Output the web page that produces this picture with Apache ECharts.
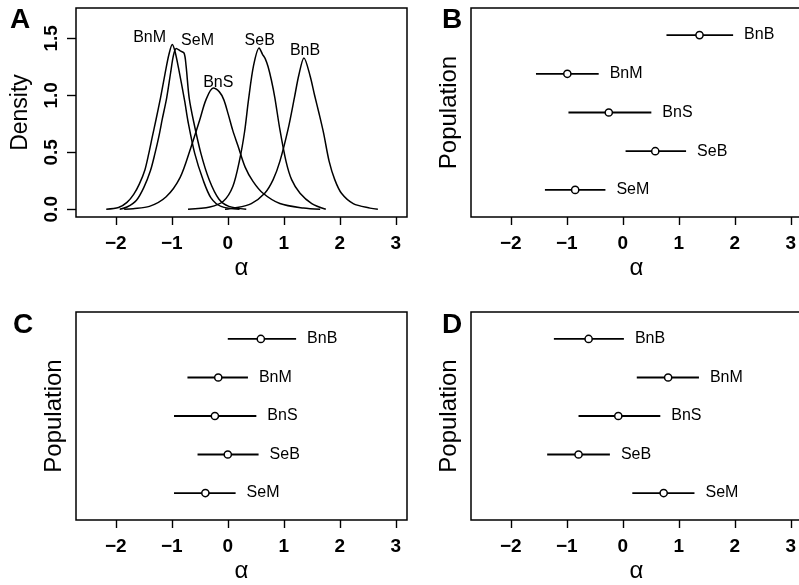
<!DOCTYPE html>
<html><head><meta charset="utf-8">
<script src="https://cdn.jsdelivr.net/npm/echarts@6/dist/echarts.min.js"></script>
<style>html,body{margin:0;padding:0;background:#fff}#c{width:799px;height:585px}</style>
</head><body><div id="c"></div>
<script>
// ---- data ----
const xTicks = [-2, -1, 0, 1, 2, 3];
const densityTicks = [0, 0.5, 1, 1.5];
const populations = ['BnB', 'BnM', 'BnS', 'SeB', 'SeM'];
const popPositions = [5, 4, 3, 2, 1];

// Panel A: posterior densities of alpha
const densBnM = [[-2.17,0],[-1.95,0.015],[-1.80,0.06],[-1.68,0.13],[-1.58,0.22],[-1.48,0.345],[-1.41,0.49],[-1.35,0.63],[-1.28,0.79],[-1.20,0.98],[-1.12,1.19],[-1.05,1.36],[-0.99,1.445],[-0.94,1.38],[-0.88,1.24],[-0.77,0.95],[-0.71,0.77],[-0.59,0.49],[-0.44,0.256],[-0.30,0.10],[-0.12,0.025],[0.21,0]];
const densSeM = [[-1.93,0],[-1.80,0.02],[-1.63,0.08],[-1.50,0.19],[-1.38,0.34],[-1.30,0.49],[-1.23,0.64],[-1.17,0.79],[-1.09,0.98],[-1.02,1.20],[-0.97,1.35],[-0.92,1.41],[-0.85,1.39],[-0.78,1.37],[-0.745,1.26],[-0.69,0.98],[-0.61,0.77],[-0.48,0.49],[-0.33,0.256],[-0.16,0.09],[0.02,0.025],[0.33,0]];
const densBnS = [[-1.85,0],[-1.69,0.005],[-1.40,0.025],[-1.10,0.11],[-0.85,0.28],[-0.66,0.54],[-0.50,0.785],[-0.39,0.96],[-0.26,1.063],[-0.15,1.03],[-0.07,0.96],[0.01,0.83],[0.09,0.69],[0.18,0.56],[0.31,0.37],[0.45,0.245],[0.63,0.14],[0.93,0.05],[1.35,0.01],[1.65,0]];
const densSeB = [[-0.71,0],[-0.32,0.02],[-0.08,0.07],[0.09,0.20],[0.21,0.43],[0.30,0.68],[0.37,0.96],[0.46,1.26],[0.56,1.415],[0.62,1.36],[0.67,1.32],[0.72,1.25],[0.78,1.13],[0.84,0.98],[0.93,0.70],[1.04,0.42],[1.14,0.26],[1.29,0.14],[1.50,0.05],[1.75,0]];
const densBnB = [[-0.05,0],[0.12,0.01],[0.42,0.05],[0.66,0.14],[0.81,0.26],[0.93,0.42],[1.08,0.71],[1.19,0.98],[1.27,1.18],[1.36,1.327],[1.47,1.17],[1.55,1.00],[1.63,0.84],[1.71,0.67],[1.81,0.42],[1.91,0.26],[2.03,0.14],[2.24,0.05],[2.54,0.01],[2.68,0]];
const curveNames = ['BnM', 'SeM', 'BnS', 'SeB', 'BnB'];
const curveLabelX = [-1.395, -0.54, -0.17, 0.57, 1.38];
const curveLabelY = [1.502, 1.48, 1.114, 1.48, 1.393];

// Panels B, C, D: posterior mean and interval per population (order of `populations`)
const bMean = [1.37, -0.99, -0.25, 0.58, -0.85];
const bLow  = [0.78, -1.55, -0.97, 0.05, -1.39];
const bHigh = [1.97, -0.43, 0.51, 1.13, -0.31];
const cMean = [0.59, -0.17, -0.23, 0.00, -0.40];
const cLow  = [0.00, -0.72, -0.96, -0.54, -0.96];
const cHigh = [1.22, 0.36, 0.51, 0.55, 0.14];
const dMean = [-0.61, 0.81, -0.08, -0.79, 0.73];
const dLow  = [-1.23, 0.25, -0.79, -1.35, 0.17];
const dHigh = [0.02, 1.36, 0.67, -0.23, 1.28];

// ---- chart ----
const FONT = '"Liberation Sans", Arial, Helvetica, sans-serif';
const chart = echarts.init(document.getElementById('c'), null, {renderer: 'canvas'});

const grids = [
  {left: 76, top: 8, width: 331, height: 209},
  {left: 471, top: 8, width: 331, height: 209},
  {left: 76, top: 312, width: 331, height: 208},
  {left: 471, top: 312, width: 331, height: 208}
].map(g => Object.assign({show: true, borderColor: '#000', borderWidth: 1.5, backgroundColor: 'transparent', containLabel: false, outerBoundsMode: 'none'}, g));

const xAxes = [0, 1, 2, 3].map(i => ({
  type: 'value', gridIndex: i, min: -2.71, max: 3.2,
  name: 'α', nameLocation: 'middle', nameGap: 39,
  nameTextStyle: {fontSize: 24, color: '#000', fontFamily: FONT},
  axisLine: {show: false, onZero: false},
  axisTick: {show: true, inside: false, length: 8, customValues: xTicks, lineStyle: {color: '#000', width: 1.4}},
  axisLabel: {show: true, customValues: xTicks, margin: 17, fontSize: 19, fontWeight: 'bold', color: '#000', fontFamily: FONT,
    formatter: v => (v < 0 ? '\u2212' + Math.abs(v) : String(v))},
  splitLine: {show: false}
}));

const popAxis = i => ({
  type: 'value', gridIndex: i, min: 0.3, max: 5.7,
  name: 'Population', nameLocation: 'middle', nameRotate: 90, nameGap: 10,
  nameTextStyle: {fontSize: 24, color: '#000', fontFamily: FONT},
  axisLine: {show: false, onZero: false}, axisTick: {show: false}, axisLabel: {show: false}, splitLine: {show: false}
});

const yAxes = [
  {
    type: 'value', gridIndex: 0, min: -0.068, max: 1.766,
    name: 'Density', nameLocation: 'middle', nameRotate: 90, nameGap: 44,
    nameTextStyle: {fontSize: 23, color: '#000', fontFamily: FONT},
    axisLine: {show: false, onZero: false},
    axisTick: {show: true, inside: false, length: 9, customValues: densityTicks, lineStyle: {color: '#000', width: 1.4}},
    axisLabel: {show: true, customValues: densityTicks, rotate: 90, margin: 15, fontSize: 19, fontWeight: 'bold', color: '#000', fontFamily: FONT,
      formatter: v => v.toFixed(1)},
    splitLine: {show: false}
  },
  popAxis(1), popAxis(2), popAxis(3)
];

const densityCurves = [densBnM, densSeM, densBnS, densSeB, densBnB];
const lineSeries = densityCurves.map(d => ({
  type: 'line', xAxisIndex: 0, yAxisIndex: 0, data: d, showSymbol: false, symbol: 'none',
  smooth: 0.3, lineStyle: {color: '#000', width: 1.5}, silent: true
}));

const labelSeriesA = {
  type: 'custom', xAxisIndex: 0, yAxisIndex: 0,
  data: curveNames.map((n, i) => [curveLabelX[i], curveLabelY[i]]),
  renderItem(params, api) {
    const p = api.coord([api.value(0), api.value(1)]);
    return {type: 'text', x: p[0], y: p[1], style: {text: curveNames[params.dataIndex], fill: '#000',
      font: '16px ' + FONT, align: 'center', verticalAlign: 'middle'}};
  },
  silent: true
};

function ciSeries(idx, mean, lo, hi) {
  return {
    type: 'custom', xAxisIndex: idx, yAxisIndex: idx, clip: false, silent: true,
    data: populations.map((p, i) => [mean[i], popPositions[i], lo[i], hi[i]]),
    encode: {x: [0, 2, 3], y: 1},
    renderItem(params, api) {
      const y = api.value(1);
      const c = api.coord([api.value(0), y]);
      const l = api.coord([api.value(2), y]);
      const h = api.coord([api.value(3), y]);
      return {type: 'group', children: [
        {type: 'line', shape: {x1: l[0], y1: l[1], x2: h[0], y2: h[1]}, style: {stroke: '#000', lineWidth: 1.8}},
        {type: 'circle', shape: {cx: c[0], cy: c[1], r: 3.6}, style: {fill: '#fff', stroke: '#000', lineWidth: 1.5}},
        {type: 'text', x: h[0] + 11, y: h[1], style: {text: populations[params.dataIndex], fill: '#000',
          font: '16px ' + FONT, align: 'left', verticalAlign: 'middle'}}
      ]};
    }
  };
}

const letter = (t, x, y) => ({type: 'text', left: x, top: y, silent: true,
  style: {text: t, fill: '#000', font: 'bold 28px ' + FONT}});

chart.setOption({
  animation: false,
  backgroundColor: '#fff',
  grid: grids,
  xAxis: xAxes,
  yAxis: yAxes,
  graphic: [letter('A', 10, 6), letter('B', 442, 6), letter('C', 13, 311), letter('D', 442, 311)],
  series: [...lineSeries, labelSeriesA,
    ciSeries(1, bMean, bLow, bHigh), ciSeries(2, cMean, cLow, cHigh), ciSeries(3, dMean, dLow, dHigh)]
});
</script></body></html>
